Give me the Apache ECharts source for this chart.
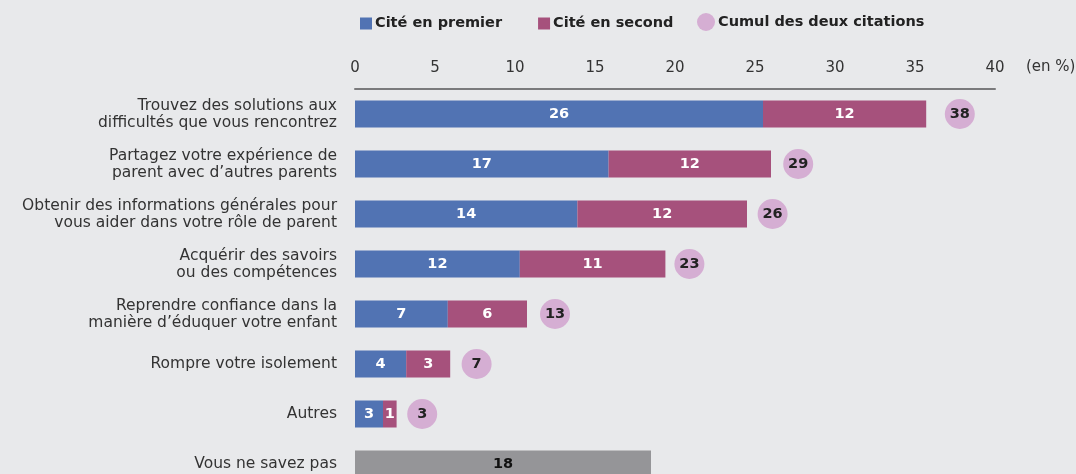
<!DOCTYPE html>
<html>
<head>
<meta charset="utf-8">
<script src="https://cdn.jsdelivr.net/npm/echarts@6/dist/echarts.min.js"></script>
<style>
  html, body { margin: 0; padding: 0; background: #e8e9eb; }
  #chart { width: 1076px; height: 474px; }
</style>
</head>
<body>
<div id="chart"></div>
<script>
// categories, top to bottom
const categories = [
  'Trouvez des solutions aux\ndifficultés que vous rencontrez',
  'Partagez votre expérience de\nparent avec d’autres parents',
  'Obtenir des informations générales pour\nvous aider dans votre rôle de parent',
  'Acquérir des savoirs\nou des compétences',
  'Reprendre confiance dans la\nmanière d’éduquer votre enfant',
  'Rompre votre isolement',
  'Autres',
  'Vous ne savez pas'
]

// bar lengths as drawn in the picture (en %)
const firstShare = [25.5, 15.85, 13.9, 10.3, 5.8, 3.2, 1.75, '-']
const secondShare = [10.2, 10.15, 10.6, 9.1, 4.95, 2.75, 0.85, '-']
const unknownShare = ['-', '-', '-', '-', '-', '-', '-', 18.5]
// where the cumul bubbles sit
const cumulPos = [37.8, 27.7, 26.1, 20.9, 12.5, 7.6, 4.2]

// printed numbers
const firstLabel = [26, 17, 14, 12, 7, 4, 3]
const secondLabel = [12, 12, 12, 11, 6, 3, 1]
const cumulLabel = [38, 29, 26, 23, 13, 7, 3]
const unknownLabel = [18]

const xTicks = [0, 5, 10, 15, 20, 25, 30, 35, 40]

const FONT = 'DejaVu Sans'
const chart = echarts.init(document.getElementById('chart'))

chart.setOption({
  backgroundColor: '#e8e9eb',
  animation: false,
  textStyle: { fontFamily: FONT },
  legend: [
    {
      left: 355,
      top: 11,
      itemWidth: 12,
      itemHeight: 12,
      itemGap: 36,
      icon: 'rect',
      textStyle: { fontFamily: FONT, fontSize: 14.5, fontWeight: 'bold', color: '#222', padding: [0, 0, 0, -2] },
      data: ['Cité en premier', 'Cité en second']
    },
    {
      left: 692,
      top: 8,
      itemWidth: 18,
      itemHeight: 18,
      icon: 'circle',
      textStyle: { fontFamily: FONT, fontSize: 14.5, fontWeight: 'bold', color: '#222', padding: [0, 0, 0, -2] },
      data: ['Cumul des deux citations']
    }
  ],
  grid: {
    left: 355,
    right: 81,
    top: 89,
    height: 400,
    outerBoundsMode: 'none'
  },
  xAxis: {
    type: 'value',
    position: 'top',
    min: xTicks[0],
    max: xTicks[xTicks.length - 1],
    interval: 5,
    axisLine: { show: true, lineStyle: { color: '#7a7a7c', width: 2 } },
    axisTick: { show: false },
    splitLine: { show: false },
    axisLabel: { margin: 13, fontSize: 15, color: '#333', fontFamily: FONT }
  },
  yAxis: {
    type: 'category',
    inverse: true,
    data: categories,
    axisLine: { show: false },
    axisTick: { show: false },
    axisLabel: { margin: 18, fontSize: 15.5, lineHeight: 17, color: '#333', align: 'right', fontFamily: FONT }
  },
  graphic: [
    {
      type: 'text',
      left: 1026,
      top: 60,
      style: { text: '(en %)', fontFamily: FONT, fontSize: 15, fill: '#333' }
    }
  ],
  series: [
    {
      name: 'Cité en premier',
      type: 'bar',
      stack: 'total',
      barWidth: 27,
      data: firstShare,
      itemStyle: { color: '#5173b3' },
      label: {
        show: true,
        position: 'inside',
        color: '#fff',
        fontWeight: 'bold',
        fontSize: 14.5,
        formatter: p => firstLabel[p.dataIndex]
      }
    },
    {
      name: 'Cité en second',
      type: 'bar',
      stack: 'total',
      barWidth: 27,
      data: secondShare,
      itemStyle: { color: '#a6517c' },
      label: {
        show: true,
        position: 'inside',
        color: '#fff',
        fontWeight: 'bold',
        fontSize: 14.5,
        formatter: p => secondLabel[p.dataIndex]
      }
    },
    {
      name: 'Vous ne savez pas',
      type: 'bar',
      stack: 'total',
      barWidth: 27,
      data: unknownShare,
      itemStyle: { color: '#959598' },
      label: {
        show: true,
        position: 'inside',
        color: '#111',
        fontWeight: 'bold',
        fontSize: 14.5,
        formatter: () => unknownLabel[0]
      }
    },
    {
      name: 'Cumul des deux citations',
      type: 'scatter',
      symbolSize: 30,
      data: cumulPos.map((v, i) => [v, i]),
      itemStyle: { color: '#d5aed3', opacity: 1 },
      label: {
        show: true,
        position: 'inside',
        color: '#222',
        fontWeight: 'bold',
        fontSize: 14.5,
        formatter: p => cumulLabel[p.dataIndex]
      }
    }
  ]
})
</script>
</body>
</html>
